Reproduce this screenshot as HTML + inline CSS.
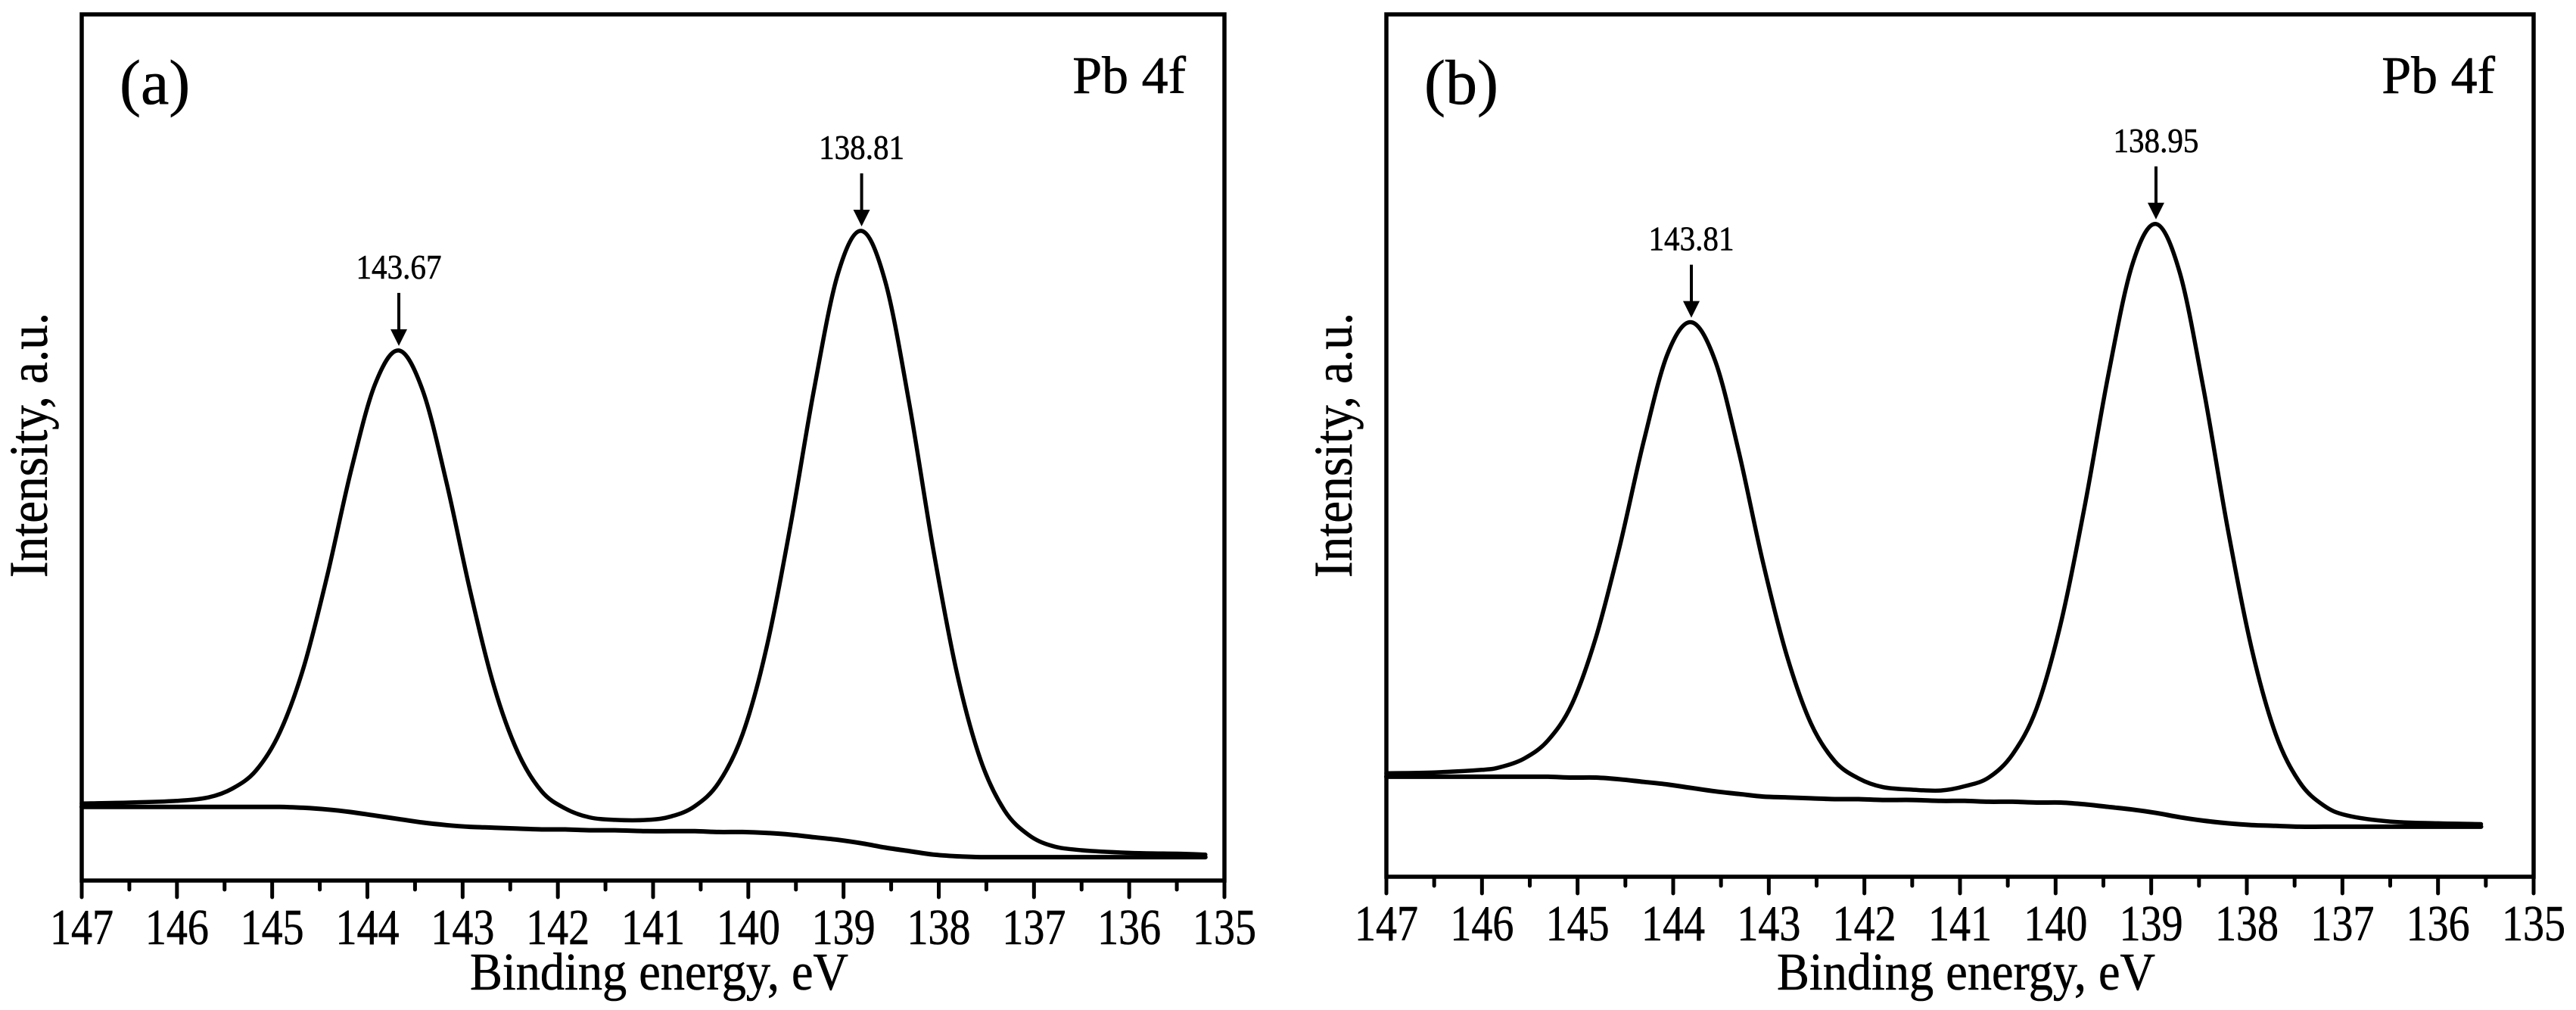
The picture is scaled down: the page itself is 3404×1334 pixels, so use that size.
<!DOCTYPE html>
<html>
<head>
<meta charset="utf-8">
<style>
  html,body{margin:0;padding:0;background:#fff;}
  svg{display:block;}
  text{font-family:"Liberation Serif","Times New Roman",serif;fill:#000;stroke:#000;stroke-width:0.6;}
</style>
</head>
<body>
<svg id="chart" width="3404" height="1334" viewBox="0 0 3404 1334" xmlns="http://www.w3.org/2000/svg"></svg>
<script>
// ---- data (panel a) ----
const energiesA = [147,146.5,146,145.67,145.42,145.17,144.92,144.67,144.42,144.17,143.92,143.67,143.42,143.17,142.92,142.67,142.42,142.17,141.92,141.67,141.4,141.06,140.81,140.56,140.31,140.06,139.81,139.56,139.31,139.06,138.81,138.56,138.31,138.06,137.81,137.56,137.31,137.06,136.81,136.5,136,135.5,135.2];
const envelopeA = [.089,.090,.092,.096,.106,.127,.171,.246,.353,.474,.573,.612,.566,.460,.334,.224,.148,.103,.083,.073,.070,.070,.074,.086,.113,.169,.268,.408,.567,.700,.750,.691,.551,.384,.240,.139,.081,.053,.040,.035,.032,.031,.030];
const backgroundA = [.085,.085,.085,.085,.085,.085,.085,.084,.082,.079,.075,.071,.067,.064,.062,.061,.060,.059,.059,.058,.058,.057,.057,.057,.056,.056,.055,.053,.050,.047,.043,.038,.034,.030,.028,.027,.027,.027,.027,.027,.027,.027,.027];
const peaksA = [143.67,138.81];
const peakLabelsA = ["143.67","138.81"];
// ---- data (panel b) ----
const energiesB = [147,146.5,146,145.81,145.56,145.31,145.06,144.81,144.56,144.31,144.06,143.81,143.56,143.31,143.06,142.81,142.56,142.31,142.06,141.81,141.5,141.2,140.95,140.7,140.45,140.2,139.95,139.7,139.45,139.2,138.95,138.7,138.45,138.2,137.95,137.7,137.45,137.2,136.95,136.5,136,135.55];
const envelopeB = [.120,.121,.124,.127,.137,.158,.200,.277,.383,.504,.606,.643,.598,.491,.364,.256,.178,.134,.114,.104,.101,.100,.105,.115,.142,.195,.292,.427,.581,.709,.757,.700,.564,.404,.265,.166,.110,.083,.071,.064,.062,.061];
const backgroundB = [.116,.116,.116,.116,.116,.116,.115,.115,.113,.110,.107,.103,.099,.096,.093,.092,.091,.090,.090,.089,.089,.088,.088,.087,.087,.086,.086,.084,.081,.078,.074,.069,.065,.062,.060,.059,.058,.058,.058,.058,.058,.058];
const peaksB = [143.81,138.95];
const peakLabelsB = ["143.81","138.95"];
// ---- axis ----
const tickLabels = ["147","146","145","144","143","142","141","140","139","138","137","136","135"];
const minorTicks = [146.5,145.5,144.5,143.5,142.5,141.5,140.5,139.5,138.5,137.5,136.5,135.5];

const NS = "http://www.w3.org/2000/svg";
const svg = document.getElementById('chart');
function mk(tag, attrs, parent){
  const e = document.createElementNS(NS, tag);
  for (const k in attrs) e.setAttribute(k, attrs[k]);
  (parent||svg).appendChild(e);
  return e;
}
function smoothPath(pts){
  let d = "M"+pts[0][0].toFixed(1)+","+pts[0][1].toFixed(1);
  for (let i=0;i<pts.length-1;i++){
    const p0=pts[Math.max(0,i-1)], p1=pts[i], p2=pts[i+1], p3=pts[Math.min(pts.length-1,i+2)];
    const c1=[p1[0]+(p2[0]-p0[0])/6, p1[1]+(p2[1]-p0[1])/6];
    const c2=[p2[0]-(p3[0]-p1[0])/6, p2[1]-(p3[1]-p1[1])/6];
    d += " C"+c1[0].toFixed(1)+","+c1[1].toFixed(1)+" "+c2[0].toFixed(1)+","+c2[1].toFixed(1)+" "+p2[0].toFixed(1)+","+p2[1].toFixed(1);
  }
  return d;
}

function panel(cfg){
  const g = mk('g', {});
  
  
  const L=cfg.left, R=cfg.right, T=cfg.top, B=cfg.bottom;
  const x = e => L + (147 - e) * (R - L) / 12;
  const y = v => B - v * (B - T);

  const bgPts = cfg.energies.map((e,i)=>[x(e), y(cfg.background[i])]);
  const bgPath = mk('path', {d: smoothPath(bgPts), fill:'none', stroke:'#000', 'stroke-width':6, 'stroke-linejoin':'round', 'stroke-linecap':'round'}, g);
  
  
  const envPts = cfg.energies.map((e,i)=>[x(e), y(cfg.envelope[i])]);
  const envPath = mk('path', {d: smoothPath(envPts), fill:'none', stroke:'#000', 'stroke-width':5.5, 'stroke-linejoin':'round', 'stroke-linecap':'round'}, g);
  
  

  const frame = mk('rect', {x:L, y:T, width:R-L, height:B-T, fill:'none', stroke:'#000', 'stroke-width':5.5}, g);
  
  

  tickLabels.forEach(lbl=>{
    const v = parseFloat(lbl), px = x(v);
    const t = mk('line', {x1:px, y1:B, x2:px, y2:B+22, stroke:'#000', 'stroke-width':5, 'stroke-linecap':'round'}, g);
    
    
    const tx = mk('text', {x:px, y:B+84, 'font-size':67, 'text-anchor':'middle', textLength:84, lengthAdjust:'spacingAndGlyphs'}, g);
    tx.textContent = lbl;
    
    
  });
  minorTicks.forEach(v=>{
    const px = x(v);
    const t = mk('line', {x1:px, y1:B, x2:px, y2:B+12, stroke:'#000', 'stroke-width':5, 'stroke-linecap':'round'}, g);
    
    
  });

  cfg.peaks.forEach((pe,i)=>{
    let idx = 0, best = 1e9;
    cfg.energies.forEach((e,j)=>{ if (Math.abs(e-pe)<best){best=Math.abs(e-pe); idx=j;} });
    const px = x(pe), top = y(cfg.envelope[idx]);
    const tip = top - 6;
    const sh = mk('line', {x1:px, y1:tip-70, x2:px, y2:tip-18, stroke:'#000', 'stroke-width':4}, g);
    
    
    const hd = mk('path', {d:`M${px-11},${tip-22} L${px+11},${tip-22} L${px},${tip} Z`, fill:'#000'}, g);
    
    
    const lt = mk('text', {x:px, y:tip-89, 'font-size':46, 'text-anchor':'middle', textLength:113, lengthAdjust:'spacingAndGlyphs'}, g);
    lt.textContent = cfg.peakLabels[i];
    
    
  });

  const pl = mk('text', {x:L+50, y:137, 'font-size':84}, g);
  pl.textContent = cfg.letter;
  
  
  const pb = mk('text', {x:R-51, y:123, 'font-size':70, 'text-anchor':'end'}, g);
  pb.textContent = 'Pb 4f';
  
  
  const xt = mk('text', {x:(L+R)/2 + 8, y:1307, 'font-size':70, 'text-anchor':'middle', textLength:500, lengthAdjust:'spacingAndGlyphs'}, g);
  xt.textContent = 'Binding energy, eV';
  
  
  const yc = 588;
  const yt = mk('text', {x:0, y:0, 'font-size':72, 'text-anchor':'middle', textLength:350, lengthAdjust:'spacingAndGlyphs', transform:`translate(${L-46},${yc}) rotate(-90)`}, g);
  yt.textContent = 'Intensity, a.u.';
  
  
}

panel({name:'panel-a', letter:'(a)', left:108, right:1618, top:19, bottom:1163,
  energies:energiesA, envelope:envelopeA, background:backgroundA, peaks:peaksA, peakLabels:peakLabelsA});
panel({name:'panel-b', letter:'(b)', left:1832, right:3348, top:19, bottom:1158,
  energies:energiesB, envelope:envelopeB, background:backgroundB, peaks:peaksB, peakLabels:peakLabelsB});
</script>
</body>
</html>
